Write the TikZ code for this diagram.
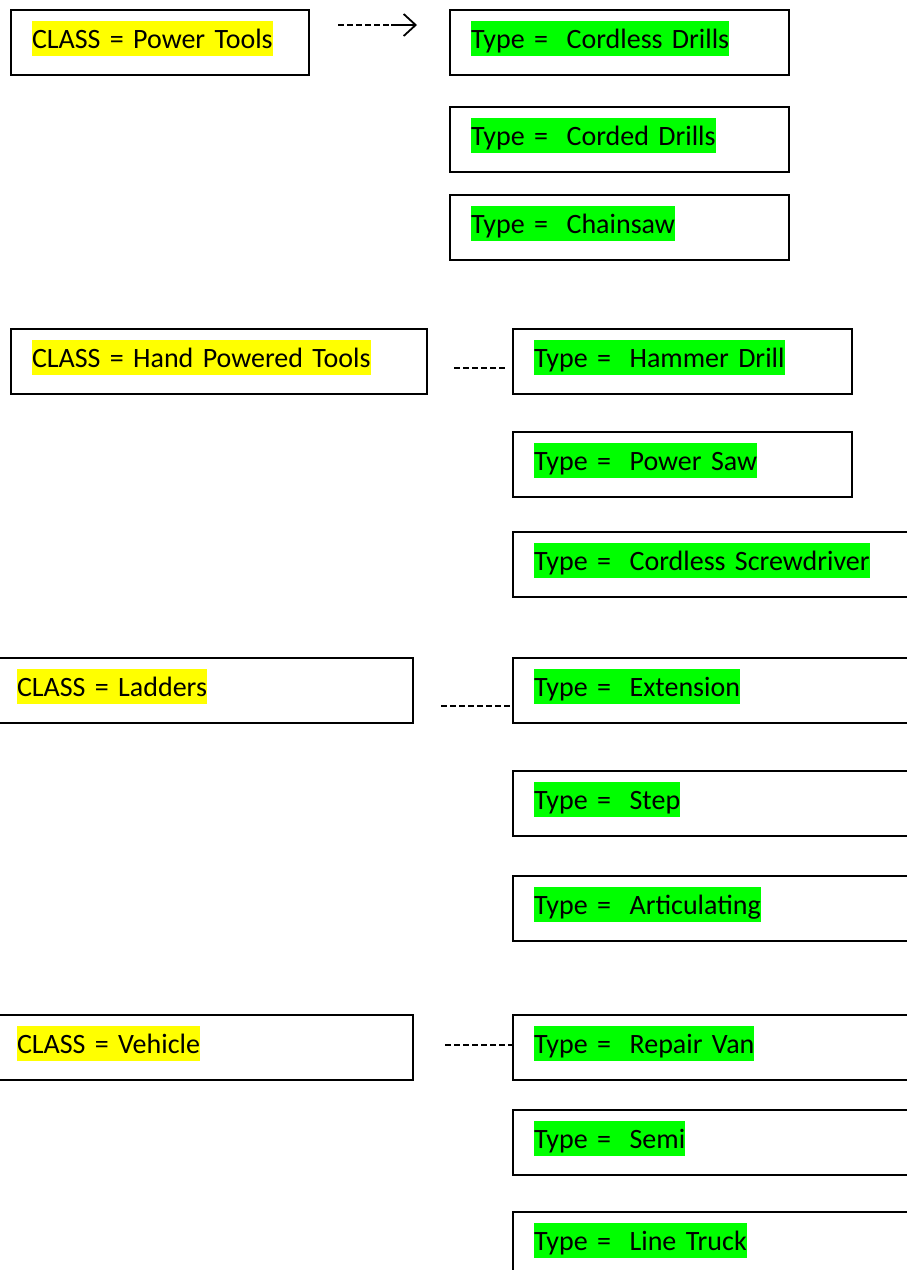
\documentclass[tikz,border=0pt]{standalone}
\usepackage{fontspec}
\setmainfont{Carlito}
\usetikzlibrary{positioning, arrows.meta}
\definecolor{hlyellow}{HTML}{FFFF00}
\definecolor{hlgreen}{HTML}{00FF00}
\setlength{\fboxsep}{0pt}
\newcommand{\hlclass}[1]{\raisebox{4pt}[27pt][8pt]{\colorbox{hlyellow}{\rule[-8pt]{0pt}{35pt}#1}}}
\newcommand{\hltype}[1]{\raisebox{4pt}[27pt][8pt]{\colorbox{hlgreen}{\rule[-8pt]{0pt}{35pt}Type = \ #1}}}
\tikzstyle{classbox} = [draw=black, line width=2pt, anchor=north west, minimum height=65pt, inner xsep=21pt, inner ysep=0pt, align=left, font=\fontsize{28}{34}\selectfont]
\tikzstyle{typebox} = [classbox, text width=297pt]
\tikzstyle{widebox} = [classbox, text width=380pt]
\tikzstyle{link} = [line width=1.5pt, dash pattern=on 6pt off 3pt]
\tikzstyle{arrow} = [line width=1.5pt, -{Straight Barb[length=12pt, width=22pt, line width=1.8pt]}]

\begin{document}
\begin{tikzpicture}[x=1pt, y=1pt]
    \clip (0,0) rectangle (907,-1270);

    % classes
    \node[classbox, text width=256pt] (power) at (10,-9) {\hlclass{CLASS = Power Tools}};
    \node[classbox, text width=374pt] (hand) at (10,-328) {\hlclass{CLASS = Hand Powered Tools}};
    \node[classbox, text width=375pt] (ladders) at (-5,-657) {\hlclass{CLASS = Ladders}};
    \node[classbox, text width=375pt] (vehicle) at (-5,-1014) {\hlclass{CLASS = Vehicle}};

    % power tools
    \node[typebox] (cordless) at (449,-9) {\hltype{Cordless Drills}};
    \node[typebox, below=30pt of cordless] (corded) {\hltype{Corded Drills}};
    \node[typebox, below=21pt of corded] (chainsaw) {\hltype{Chainsaw}};

    % hand powered tools
    \node[typebox] (hammer) at (512,-328) {\hltype{Hammer Drill}};
    \node[typebox, below=36pt of hammer] (saw) {\hltype{Power Saw}};
    \node[widebox, below=33pt of saw.south west, anchor=north west] (screw) {\hltype{Cordless Screwdriver}};

    % ladders
    \node[widebox] (extension) at (512,-657) {\hltype{Extension}};
    \node[widebox, below=46pt of extension] (stepladder) {\hltype{Step}};
    \node[widebox, below=38pt of stepladder] (articulating) {\hltype{Articulating}};

    % vehicle
    \node[widebox] (van) at (512,-1014) {\hltype{Repair Van}};
    \node[widebox, below=28pt of van] (semi) {\hltype{Semi}};
    \node[widebox, below=35pt of semi] (truck) {\hltype{Line Truck}};

    % connectors
    \coordinate (p1) at (338,-25);
    \coordinate (p2) at (391,-25);
    \coordinate (p3) at (417,-25);
    \draw[link] (p1) -- (p2);
    \draw[arrow] (p2) -- (p3);

    \coordinate (h1) at (454,-368);
    \coordinate (h2) at (507,-368);
    \draw[link] (h1) -- (h2);

    \coordinate (l1) at (441,-706);
    \draw[link] (l1) -- (l1 -| extension.west);

    \coordinate (v1) at (445,-1045);
    \draw[link] (v1) -- (v1 -| van.west);
\end{tikzpicture}
\end{document}
